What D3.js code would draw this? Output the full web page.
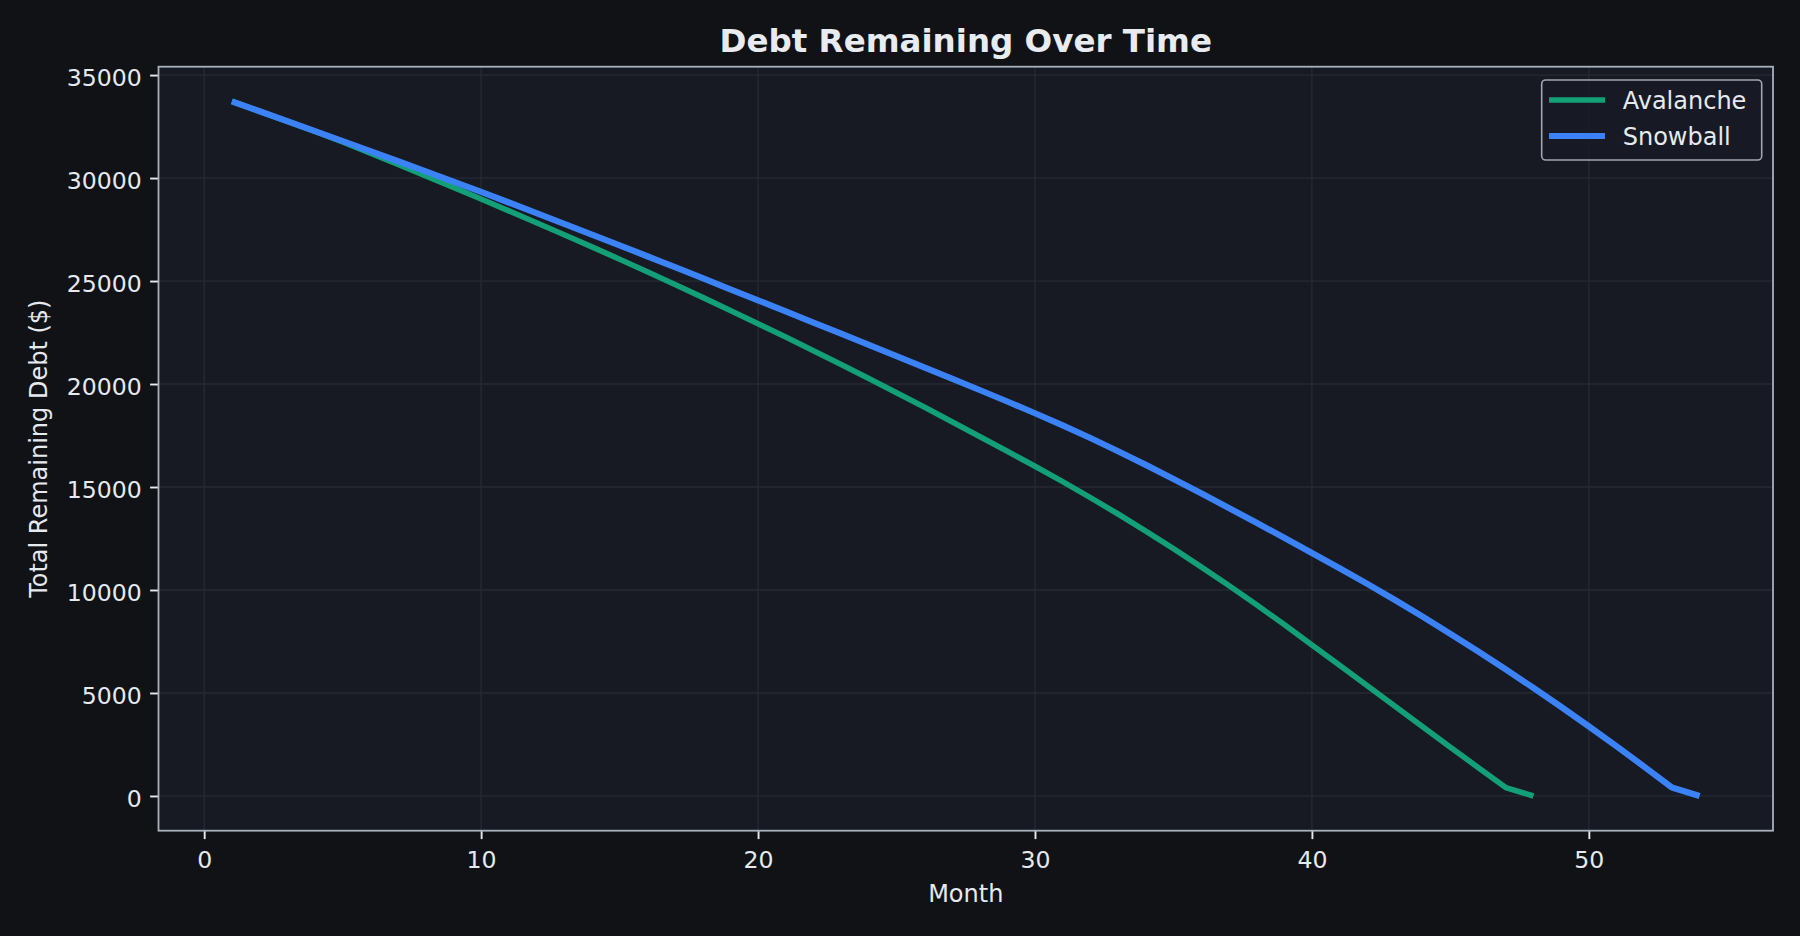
<!DOCTYPE html>
<html>
<head>
<meta charset="utf-8">
<script src="https://cdn.jsdelivr.net/npm/d3@7"></script>
<style>
  html, body { margin: 0; padding: 0; background: #101216; }
  svg { display: block; }
  text { font-family: "DejaVu Sans", sans-serif; }
</style>
</head>
<body>
<svg id="chart" width="1800" height="936"></svg>
<script>
// ---- Data ----
const title = "Debt Remaining Over Time";
const xLabel = "Month";
const yLabel = "Total Remaining Debt ($)";
const seriesNames = ["Avalanche", "Snowball"];

const avalancheMonths = d3.range(1, 49);
const avalancheDebt = [
  33720, 33240, 32756, 32264, 31754, 31214, 30662, 30106, 29546, 28981,
  28409, 27831, 27247, 26657, 26060, 25450, 24832, 24206, 23572, 22930,
  22280, 21620, 20950, 20270, 19580, 18880, 18170, 17455, 16735, 16005,
  15260, 14488, 13689, 12862, 12008, 11127, 10219, 9284, 8321, 7331,
  6345, 5355, 4360, 3362, 2370, 1385, 408, 0
];

const snowballMonths = d3.range(1, 55);
const snowballDebt = [
  33720, 33242, 32762, 32280, 31795, 31307, 30817, 30324, 29828, 29328,
  28813, 28296, 27777, 27256, 26733, 26203, 25671, 25137, 24601, 24063,
  23525, 22985, 22444, 21902, 21358, 20812, 20263, 19710, 19152, 18582,
  17992, 17377, 16737, 16075, 15392, 14692, 13982, 13262, 12536, 11800,
  11060, 10297, 9512, 8704, 7873, 7020, 6144, 5245, 4323, 3379,
  2412, 1422, 410, 0
];

const xTicks = [0, 10, 20, 30, 40, 50];
const yTicks = [0, 5000, 10000, 15000, 20000, 25000, 30000, 35000];

// ---- Layout ----
const W = 1800, H = 936;
const margin = { left: 158.5, right: 27, top: 66.7, bottom: 105.3 };
const pw = W - margin.left - margin.right;
const ph = H - margin.top - margin.bottom;

const colors = { Avalanche: "#14a077", Snowball: "#3b82f6" };
const widths = { Avalanche: 5.6, Snowball: 6.2 };

const svg = d3.select("#chart");
svg.append("rect").attr("width", W).attr("height", H).attr("fill", "#101216");

const g = svg.append("g").attr("transform", `translate(${margin.left},${margin.top})`);

const xMin = 1, xMax = 54;
const xPad = (xMax - xMin) * 0.05;
const yMax = d3.max(avalancheDebt.concat(snowballDebt)), yMin = 0;
const yPad = (yMax - yMin) * 0.05;

const x = d3.scaleLinear().domain([xMin - xPad, xMax + xPad]).range([0, pw]);
const y = d3.scaleLinear().domain([yMin - yPad, yMax + yPad]).range([ph, 0]);

// plot background
g.append("rect").attr("width", pw).attr("height", ph).attr("fill", "#171a23");

// grid
g.append("g").selectAll("line").data(xTicks).join("line")
  .attr("x1", d => x(d)).attr("x2", d => x(d))
  .attr("y1", 0).attr("y2", ph)
  .attr("stroke", "#262a35").attr("stroke-width", 1.3);
g.append("g").selectAll("line").data(yTicks).join("line")
  .attr("x1", 0).attr("x2", pw)
  .attr("y1", d => y(d)).attr("y2", d => y(d))
  .attr("stroke", "#262a35").attr("stroke-width", 1.3);

// lines
const series = [
  { name: "Avalanche", xs: avalancheMonths, ys: avalancheDebt },
  { name: "Snowball", xs: snowballMonths, ys: snowballDebt }
];
const line = d3.line().x(d => x(d[0])).y(d => y(d[1]));
series.forEach(s => {
  const pts = s.xs.map((m, i) => [m, s.ys[i]]);
  g.append("path").datum(pts)
    .attr("d", line)
    .attr("fill", "none")
    .attr("stroke", colors[s.name])
    .attr("stroke-width", widths[s.name])
    .attr("stroke-linejoin", "round")
    .attr("stroke-linecap", "butt");
});

// axes
const xAxis = d3.axisBottom(x).tickValues(xTicks).tickSize(8.4).tickPadding(6).tickFormat(d3.format("d"));
const yAxis = d3.axisLeft(y).tickValues(yTicks).tickSize(8.4).tickPadding(8.4).tickFormat(d3.format("d"));

const gx = g.append("g").attr("transform", `translate(0,${ph})`).call(xAxis);
const gy = g.append("g").call(yAxis);
[gx, gy].forEach(ax => {
  ax.select(".domain").remove();
  ax.selectAll(".tick line").attr("stroke", "#e6e9ee").attr("stroke-width", 1.9);
  ax.selectAll(".tick text").attr("fill", "#e6e9ee").style("font-size", "23.6px")
    .style("font-family", "DejaVu Sans");
});
gx.selectAll(".tick text").attr("dy", null).attr("y", 37.5);
gy.selectAll(".tick text").attr("dy", "0.44em");

// frame (spines)
g.append("rect").attr("width", pw).attr("height", ph)
  .attr("fill", "none").attr("stroke", "#a9b1bc").attr("stroke-width", 1.8);

// title
svg.append("text")
  .attr("x", margin.left + pw / 2).attr("y", 52)
  .attr("text-anchor", "middle")
  .attr("fill", "#e8ecf1")
  .style("font-size", "32.5px").style("font-weight", "bold")
  .text(title);

// axis labels
svg.append("text")
  .attr("x", margin.left + pw / 2).attr("y", 902)
  .attr("text-anchor", "middle")
  .attr("fill", "#e6e9ee")
  .style("font-size", "24px")
  .text(xLabel);
svg.append("text")
  .attr("transform", `translate(46.5,${margin.top + ph / 2}) rotate(-90)`)
  .attr("text-anchor", "middle")
  .attr("fill", "#e6e9ee")
  .style("font-size", "24px")
  .text(yLabel);

// legend
const lg = svg.append("g");
lg.append("rect")
  .attr("x", 1541.7).attr("y", 80).attr("width", 220).attr("height", 80)
  .attr("rx", 4).attr("ry", 4)
  .attr("fill", "#181b24").attr("fill-opacity", 0.85)
  .attr("stroke", "#a3a6ab").attr("stroke-width", 1.6);
seriesNames.forEach((name, i) => {
  const cy = 100 + i * 36;
  lg.append("line")
    .attr("x1", 1549).attr("x2", 1605).attr("y1", cy).attr("y2", cy)
    .attr("stroke", colors[name]).attr("stroke-width", widths[name]);
  lg.append("text")
    .attr("x", 1622.7).attr("y", cy + 9)
    .attr("fill", "#e6e9ee")
    .style("font-size", "24px")
    .text(name);
});
</script>
</body>
</html>
